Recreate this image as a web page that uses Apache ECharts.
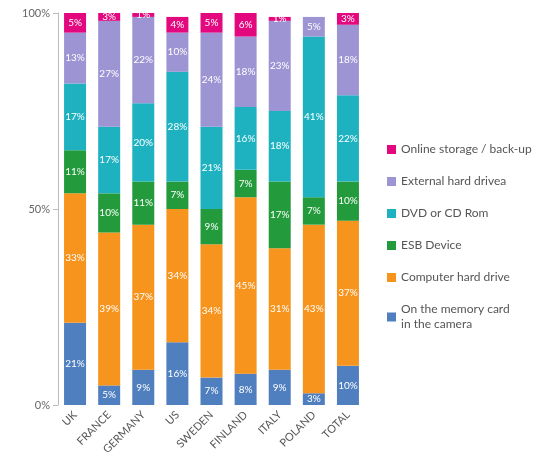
<!DOCTYPE html><html><head><meta charset="utf-8"><script src="https://cdn.jsdelivr.net/npm/echarts@6/dist/echarts.min.js"></script></head><body style="margin:0"><div id="c" style="width:540px;height:467px"></div><script>
const categories=['UK','FRANCE','GERMANY','US','SWEDEN','FINLAND','ITALY','POLAND','TOTAL'];
const memoryCard=[21,5,9,16,7,8,9,3,10];
const computerHD=[33,39,37,34,34,45,31,43,37];
const esb=[11,10,11,7,9,7,17,7,10];
const dvd=[17,17,20,28,21,16,18,41,22];
const externalHD=[13,27,22,10,24,18,23,5,18];
const online=[5,3,1,4,5,6,1,0,3];
const names=['On the memory card\nin the camera','Computer hard drive','ESB Device','DVD or CD Rom','External hard drivea','Online storage / back-up'];
const colors=['#4f7fbf','#f7941d','#239b3c','#1eb2c0','#9d94d3','#e3087e'];
const data=[memoryCard,computerHD,esb,dvd,externalHD,online];
const series=data.map((d,i)=>({name:names[i],type:'bar',stack:'a',barWidth:22,data:d,itemStyle:{color:colors[i]},
label:{show:true,color:'#fff',fontSize:10,fontFamily:'Lato',formatter:p=>p.value>0?p.value+'%':''}}));
const chart=echarts.init(document.getElementById('c'));
chart.setOption({
grid:{left:58,top:13,width:307,height:392},
legend:{orient:'vertical',left:382,top:137,itemWidth:9,itemHeight:9,icon:'rect',itemGap:17,
data:names.slice().reverse(),textStyle:{color:'#555',fontSize:12,fontFamily:'Lato',lineHeight:15}},
xAxis:{type:'category',data:categories,axisTick:{show:false},axisLine:{show:false},
axisLabel:{rotate:45,color:'#555',fontSize:11,fontFamily:'Lato',interval:0}},
yAxis:{type:'value',min:0,max:100,interval:50,splitLine:{show:false},axisLine:{show:true,lineStyle:{color:'#bbb'}},axisTick:{show:true,lineStyle:{color:'#bbb'}},
axisLabel:{formatter:'{value}%',color:'#666',fontSize:11,fontFamily:'Lato'}},
series:series});
</script></body></html>
